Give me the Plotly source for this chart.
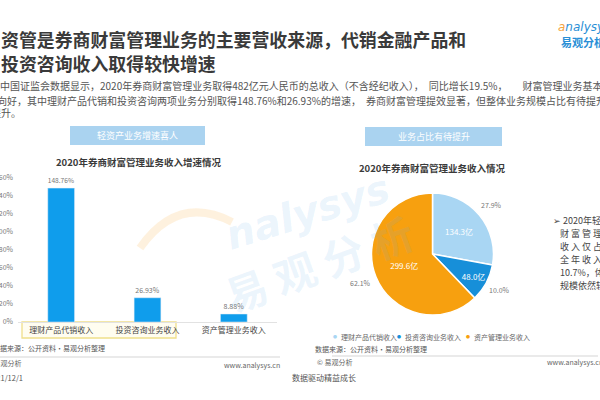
import math
import plotly.graph_objects as go

# ---------------- data ----------------
bar_categories = ["理财产品代销收入", "投资咨询业务收入", "资产管理业务收入"]
bar_growth = [148.76, 26.93, 8.88]
y_ticks = [0, 20, 40, 60, 80, 100, 120, 140, 160]
y_tick_labels = [f"{v}%" for v in y_ticks]

pie_labels = ["理财产品代销收入", "投资咨询业务收入", "资产管理业务收入"]
pie_values = [134.3, 48.0, 299.6]
pie_pct = [27.9, 10.0, 62.1]

W, H = 600, 400
FONT = "Noto Sans CJK SC"


def X(px):
    return px / W


def Y(py):
    return 1 - py / H


fig = go.Figure()

# bar chart
fig.add_trace(go.Bar(
    x=bar_categories, y=bar_growth,
    marker=dict(color="#0F9DEC"),
    width=0.31,
    text=[f"{v:.2f}%" for v in bar_growth],
    textposition="outside",
    textfont=dict(size=7, color="#777", family=FONT),
    cliponaxis=False,
    showlegend=False,
    hoverinfo="skip",
))

# pie chart
pie_colors = ["#A9D6F3", "#178FD9", "#F7A00F"]
fig.add_trace(go.Pie(
    labels=pie_labels, values=pie_values,
    sort=False, direction="clockwise", rotation=0,
    marker=dict(colors=pie_colors, line=dict(color="white", width=1.5)),
    text=[f"{v:.1f}亿" for v in pie_values],
    textinfo="text",
    textposition="inside",
    insidetextorientation="horizontal",
    textfont=dict(size=8, color="white", family=FONT),
    domain=dict(x=[X(371), X(494)], y=[Y(315), Y(193)]),
    showlegend=False,
    hoverinfo="skip",
))

ann = []
shapes = []


def text(x, y, s, size, color="#444", anchor="left", bold=False):
    ann.append(dict(
        x=X(x), y=Y(y), xref="paper", yref="paper", text=s, showarrow=False,
        xanchor=anchor, yanchor="middle",
        font=dict(size=size, color=color, family=FONT,
                  weight="bold" if bold else "normal")))


# watermark
ann.append(dict(x=X(307), y=Y(212), xref="paper", yref="paper", text="nalysys",
                showarrow=False, textangle=-17,
                font=dict(size=40, color="rgba(110,175,235,0.15)", family="DejaVu Sans",
                          style="italic", weight="bold")))
ann.append(dict(x=X(318), y=Y(262), xref="paper", yref="paper", text="易 观 分 析",
                showarrow=False, textangle=-20,
                font=dict(size=42, color="rgba(110,175,235,0.13)", family=FONT,
                          weight="bold")))
shapes.append(dict(type="path", xref="paper", yref="paper",
                   path=f"M {X(140)},{Y(248)} Q {X(178)},{Y(194)} {X(232)},{Y(222)}",
                   line=dict(color="rgba(247,170,60,0.17)", width=8)))

# title
text(-1, 39, "资管是券商财富管理业务的主要营收来源，代销金融产品和", 17.9, "#3A3A3A", bold=True)
text(-1, 63, "投资咨询收入取得较快增速", 17.9, "#3A3A3A", bold=True)

# subtitle
text(-12, 86, "据中国证监会数据显示，2020年券商财富管理业务取得482亿元人民币的总收入（不含经纪收入），　同比增长19.5%，　　财富管理业务基本面向好", 10, "#555")
text(-5, 100, "向好，其中理财产品代销和投资咨询两项业务分别取得148.76%和26.93%的增速，　券商财富管理提效显著，但整体业务规模占比有待提升", 10, "#555")
text(-11, 113, "提升。", 10, "#555")

# logo
ann.append(dict(x=X(556), y=Y(27), xref="paper", yref="paper",
                text="<span style='color:#F4A340'>a</span>nalysys", showarrow=False,
                xanchor="left", yanchor="middle",
                font=dict(size=12, color="#2A8FD6", family="DejaVu Sans", style="italic")))
text(559, 42, "易观分析", 11, "#2A8FD6", bold=True)

# section header boxes
shapes.append(dict(type="rect", xref="paper", yref="paper",
                   x0=X(70), x1=X(205), y0=Y(145), y1=Y(126),
                   fillcolor="#AAD3F0", line=dict(width=0)))
text(137.5, 135.5, "轻资产业务增速喜人", 9, "white", anchor="center")
shapes.append(dict(type="rect", xref="paper", yref="paper",
                   x0=X(365), x1=X(502), y0=Y(146), y1=Y(127),
                   fillcolor="#AAD3F0", line=dict(width=0)))
text(433.5, 136.5, "业务占比有待提升", 9, "white", anchor="center")

# chart titles
text(138, 162, "2020年券商财富管理业务收入增速情况", 9.5, "#3A3A3A", anchor="center", bold=True)
text(432, 168, "2020年券商财富管理业务收入情况", 9.5, "#3A3A3A", anchor="center", bold=True)

# yellow highlight box around two category labels
shapes.append(dict(type="rect", xref="paper", yref="paper",
                   x0=X(22), x1=X(176), y0=Y(338), y1=Y(322),
                   fillcolor="rgba(255,252,230,0.6)",
                   line=dict(color="#F0DF8A", width=1.3), layer="below"))

# pie outside percentage labels (positions derived from data)
cx, cy, r = 432, 254, 61
total = sum(pie_values)
acc = 0
for v, p in zip(pie_values, pie_pct):
    mid = (acc + v / 2) / total * 2 * math.pi
    acc += v
    lx = cx + 1.26 * r * math.sin(mid)
    ly = cy - 1.26 * r * math.cos(mid)
    text(lx, ly, f"{p:.1f}%", 7, "#777", anchor="center")

# pie legend
leg_x = [339, 403, 472]
for lx, lab, col in zip(leg_x, pie_labels, pie_colors):
    text(lx - 4, 337, "●", 4, col, anchor="center")
    text(lx, 337, lab, 7, "#666")

# right text block
rt = ["➢ 2020年轻资产业务在券商", "财 富 管 理 业 务 中 营", "收 入 仅 占 比 37.9%，",
      "全 年 收 入 仅 增 长", "10.7%，体量较小，", "规模依然较小"]
rty = [220, 233, 246, 259, 272, 285]
for i, (s, yy) in enumerate(zip(rt, rty)):
    text(551 if i == 0 else 558, yy, s, 9, "#444")

# footers
text(-9, 348, "数据来源：公开资料·易观分析整理", 7, "#555")
text(313, 349, "数据来源：公开资料·易观分析整理", 7, "#555")
shapes.append(dict(type="line", xref="paper", yref="paper",
                   x0=X(0), x1=X(280), y0=Y(357), y1=Y(357),
                   line=dict(color="#D5D5D5", width=1)))
shapes.append(dict(type="line", xref="paper", yref="paper",
                   x0=X(332), x1=X(598), y0=Y(356), y1=Y(356),
                   line=dict(color="#D5D5D5", width=1)))
text(-16, 363, "© 易观分析", 7, "#666")
text(315, 362, "© 易观分析", 7, "#666")
text(222, 365, "www.analysys.cn", 7, "#666")
text(545, 362, "www.analysys.cn", 7, "#666")
text(-14, 377, "2021/12/1", 7.5, "#555")
text(290, 377, "数据驱动精益成长", 8, "#555")

fig.update_layout(
    width=W, height=H,
    margin=dict(l=0, r=0, t=0, b=0, autoexpand=False),
    paper_bgcolor="white", plot_bgcolor="white",
    annotations=ann, shapes=shapes,
    font=dict(family=FONT),
    xaxis=dict(domain=[X(18), X(277)], showgrid=False, showline=True,
               linecolor="#E2E2E2", linewidth=1, ticks="", automargin=False,
               tickfont=dict(size=8, color="#444", family=FONT), fixedrange=True),
    yaxis=dict(domain=[Y(322), Y(178)], range=[0, 160], tickmode="array",
               tickvals=y_ticks, ticktext=y_tick_labels, ticklabelstandoff=4,
               showgrid=False, zeroline=False, showline=False,
               automargin=False,
               tickfont=dict(size=7, color="#777", family=FONT), fixedrange=True),
)

fig.write_html("out.html",
               config={"displayModeBar": False},
               post_script="document.body.style.margin='0px';"
                           "document.body.style.overflow='hidden';")
